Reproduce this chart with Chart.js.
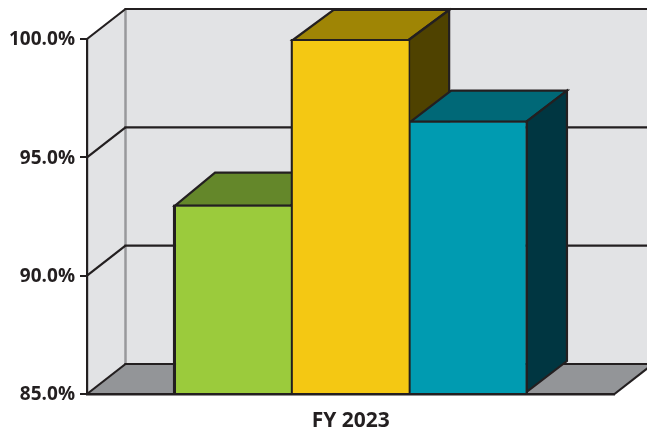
<!DOCTYPE html>
<html>
<head>
<meta charset="utf-8">
<style>html,body{margin:0;padding:0;background:#fff}canvas{display:block}</style>
<script src="https://cdn.jsdelivr.net/npm/chart.js@4"></script>
</head>
<body>
<canvas id="c" width="647" height="427"></canvas>
<script>
const categories = ['FY 2023'];
const seriesGreen = [93.0];
const seriesYellow = [100.0];
const seriesTeal = [96.55];
const tickLabels = ['85.0%', '90.0%', '95.0%', '100.0%'];

const INK = '#231f20';
const DX = 38.5, DY = -30;
const faces = [
  {top: '#64872a', side: '#3f5a1a', dx: 40, dy: -33},
  {top: '#9f8505', side: '#4f4200', dx: 40.5, dy: -30},
  {top: '#006877', side: '#003641', dx: 40.5, dy: -31}
];

function poly(ctx, pts, fill, stroke, w) {
  ctx.beginPath();
  pts.forEach((p, i) => i ? ctx.lineTo(p[0], p[1]) : ctx.moveTo(p[0], p[1]));
  ctx.closePath();
  if (fill) { ctx.fillStyle = fill; ctx.fill(); }
  if (stroke) { ctx.strokeStyle = stroke; ctx.lineWidth = w || 2; ctx.lineJoin = 'miter'; ctx.stroke(); }
}
function line(ctx, x0, y0, x1, y1, color, w) {
  ctx.beginPath(); ctx.moveTo(x0, y0); ctx.lineTo(x1, y1);
  ctx.strokeStyle = color; ctx.lineWidth = w; ctx.stroke();
}

const box3d = {
  id: 'box3d',
  beforeDraw(chart) {
    const {ctx, chartArea: a, scales: {y}} = chart;
    const W = chart.width + 60;
    ctx.save();
    poly(ctx, [[a.left + DX, a.top + DY], [W, a.top + DY], [W, a.bottom + DY], [a.left + DX, a.bottom + DY]], '#e2e3e5');
    poly(ctx, [[a.left, a.top], [a.left + DX, a.top + DY], [a.left + DX, a.bottom + DY], [a.left, a.bottom]], '#e2e3e5');
    poly(ctx, [[a.left, a.bottom], [a.right, a.bottom], [a.right + DX, a.bottom + DY], [a.left + DX, a.bottom + DY]], '#939598');
    line(ctx, a.right, a.bottom, a.right + DX, a.bottom + DY, INK, 2.2);
    line(ctx, a.left + DX, a.top + DY, a.left + DX, a.bottom + DY, '#98999b', 2.5);
    y.ticks.forEach(t => {
      const py = y.getPixelForValue(t.value);
      line(ctx, a.left, py, a.left + DX, py + DY, INK, 2.2);
      line(ctx, a.left + DX - 1, py + DY, W, py + DY, INK, 2.2);
    });
    ctx.restore();
  },
  beforeDatasetsDraw(chart) {
    const {ctx} = chart;
    ctx.save();
    chart.data.datasets.forEach((ds, i) => {
      const f = faces[i];
      chart.getDatasetMeta(i).data.forEach(bar => {
        const l = bar.x - bar.width / 2 + 1, r = bar.x + bar.width / 2 - 1, t = bar.y + 1, b = bar.base - 1;
        poly(ctx, [[l, t], [r, t], [r + f.dx, t + f.dy], [l + f.dx, t + f.dy]], f.top, INK, 2.2);
        poly(ctx, [[r, t], [r + f.dx, t + f.dy], [r + f.dx, b + f.dy], [r, b]], f.side, INK, 2.2);
      });
    });
    // outline behind the front faces, so shared edges stay full weight above shorter neighbours
    chart.data.datasets.forEach((ds, i) => {
      chart.getDatasetMeta(i).data.forEach(bar => {
        const l = bar.x - bar.width / 2, r = bar.x + bar.width / 2;
        line(ctx, l, bar.y, l, bar.base, INK, 2.2);
        line(ctx, r, bar.y, r, bar.base, INK, 1);
      });
    });
    ctx.restore();
  }
};

new Chart(document.getElementById('c'), {
  type: 'bar',
  data: {
    labels: categories,
    datasets: [
      {data: seriesGreen, base: 85, backgroundColor: '#9bcb3c', borderColor: INK, borderWidth: {top: 2, left: 2, right: 1, bottom: 0}, borderSkipped: false},
      {data: seriesYellow, base: 85, backgroundColor: '#f4c813', borderColor: INK, borderWidth: {top: 2, left: 1, right: 1, bottom: 0}, borderSkipped: false},
      {data: seriesTeal, base: 85, backgroundColor: '#009bb1', borderColor: INK, borderWidth: {top: 2, left: 1, right: 2, bottom: 0}, borderSkipped: false}
    ]
  },
  plugins: [box3d],
  options: {
    responsive: false,
    devicePixelRatio: 1,
    animation: false,
    layout: {padding: {top: 39, right: 32.5, left: 0, bottom: 0}},
    plugins: {legend: {display: false}, tooltip: {enabled: false}, title: {display: false}},
    datasets: {bar: {categoryPercentage: 0.67, barPercentage: 1}},
    scales: {
      x: {
        z: 1,
        afterFit(s) { s.height = 33; },
        grid: {display: false},
        border: {display: true, color: INK, width: 2.4},
        ticks: {color: INK, padding: 6, maxRotation: 0, font: {family: '"Open Sans"', size: 21, weight: '700'}}
      },
      y: {
        min: 85, max: 100,
        afterFit(s) { s.width = 87; },
        border: {display: true, color: INK, width: 2.2},
        grid: {drawOnChartArea: false, drawTicks: true, tickLength: 7, color: INK, lineWidth: 2},
        ticks: {
          stepSize: 5, color: INK, padding: 5, labelOffset: 1,
          font: {family: '"Open Sans"', size: 19, weight: '700'},
          callback: (v, i) => tickLabels[i]
        }
      }
    }
  }
});
</script>
</body>
</html>
